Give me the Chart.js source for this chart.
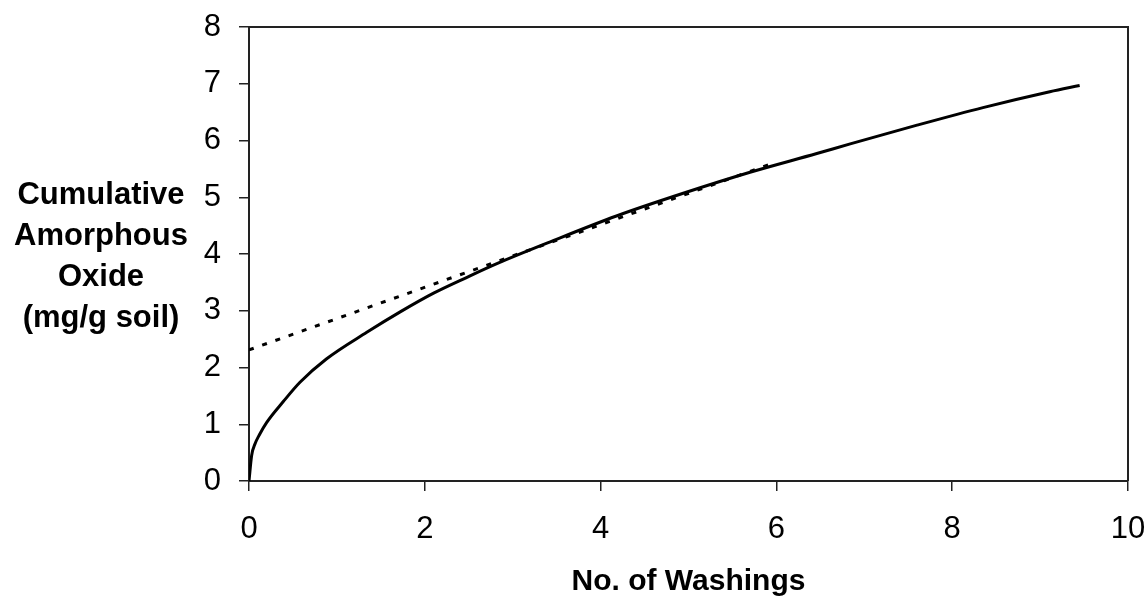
<!DOCTYPE html>
<html>
<head>
<meta charset="utf-8">
<script src="https://cdn.jsdelivr.net/npm/chart.js@4"></script>
<style>
  html, body { margin: 0; padding: 0; background: #fff; overflow: hidden; }
  #wrap { width: 1147px; height: 597px; }
</style>
</head>
<body>
<div id="wrap"><canvas id="washChart"></canvas></div>
<script>
  // Cumulative curve
  const washX = [0, 0.03, 0.07, 0.12, 0.2, 0.39, 0.58, 0.88, 1.34, 1.72, 2.1, 2.48, 2.82, 3.42, 4.18, 4.94, 5.7, 6.46, 6.84, 7.6, 8.35, 9.11, 9.45];
  const oxideY = [0, 0.45, 0.66, 0.82, 1.03, 1.4, 1.74, 2.15, 2.62, 2.98, 3.31, 3.59, 3.83, 4.21, 4.67, 5.07, 5.44, 5.77, 5.94, 6.27, 6.58, 6.86, 6.97];
  // Linear fit (dotted)
  const fitX = [0, 6.0];
  const fitY = [2.31, 5.62];
  const yTitle = ['Cumulative', 'Amorphous', 'Oxide', '(mg/g soil)'];
  const xTitle = 'No. of Washings';

  const toPts = (xs, ys) => xs.map((x, i) => ({ x: x, y: ys[i] }));

  // frame + multi-line y title
  const extras = {
    id: 'extras',
    afterDraw(chart) {
      const { ctx, chartArea: a } = chart;
      ctx.save();
      ctx.strokeStyle = '#222';
      ctx.lineWidth = 2;
      ctx.beginPath();
      ctx.moveTo(a.left, a.top);
      ctx.lineTo(a.right, a.top);
      ctx.lineTo(a.right, a.bottom);
      ctx.stroke();

      ctx.fillStyle = '#000';
      ctx.font = 'bold 31px "Liberation Sans", Arial, sans-serif';
      ctx.textAlign = 'center';
      ctx.textBaseline = 'middle';
      const step = 40.7;
      const mid = (a.top + a.bottom) / 2 + 3;
      const cx = a.left - 148;
      yTitle.forEach((t, i) => {
        ctx.fillText(t, cx, mid + (i - (yTitle.length - 1) / 2) * step);
      });
      ctx.restore();
    }
  };

  const ctx = document.getElementById('washChart').getContext('2d');
  new Chart(ctx, {
    type: 'scatter',
    data: {
      datasets: [{
        label: 'cumulative',
        data: toPts(washX, oxideY),
        showLine: true,
        borderColor: '#000',
        borderWidth: 3,
        pointRadius: 0,
        cubicInterpolationMode: 'monotone'
      }, {
        label: 'fit',
        data: toPts(fitX, fitY),
        showLine: true,
        borderColor: '#000',
        borderWidth: 3,
        borderDash: [5, 9],
        pointRadius: 0
      }]
    },
    options: {
      responsive: true,
      maintainAspectRatio: false,
      animation: false,
      layout: { padding: { top: 27, right: 19, bottom: 0, left: 0 } },
      plugins: {
        legend: { display: false },
        tooltip: { enabled: false }
      },
      scales: {
        x: {
          type: 'linear',
          min: 0,
          max: 10,
          afterFit(scale) {
            scale.height = 116;
            scale.paddingLeft = 0;
            scale.paddingRight = 0;
          },
          ticks: {
            stepSize: 2,
            color: '#000',
            padding: 20,
            font: { family: '"Liberation Sans", Arial, sans-serif', size: 31 }
          },
          grid: { drawOnChartArea: false, drawTicks: true, tickLength: 10, color: '#222', lineWidth: 1.5 },
          border: { display: true, color: '#222', width: 2 },
          title: {
            display: true,
            text: xTitle,
            color: '#000',
            padding: 0,
            font: { family: '"Liberation Sans", Arial, sans-serif', size: 30, weight: 'bold', lineHeight: 1 }
          }
        },
        y: {
          min: 0,
          max: 8,
          afterFit(scale) {
            scale.width = 249;
            scale.paddingTop = 0;
            scale.paddingBottom = 0;
          },
          ticks: {
            stepSize: 1,
            color: '#000',
            padding: 18,
            font: { family: '"Liberation Sans", Arial, sans-serif', size: 31 }
          },
          grid: { drawOnChartArea: false, drawTicks: true, tickLength: 10, color: '#222', lineWidth: 1.5 },
          border: { display: true, color: '#222', width: 2 }
        }
      }
    },
    plugins: [extras]
  });
</script>
</body>
</html>
